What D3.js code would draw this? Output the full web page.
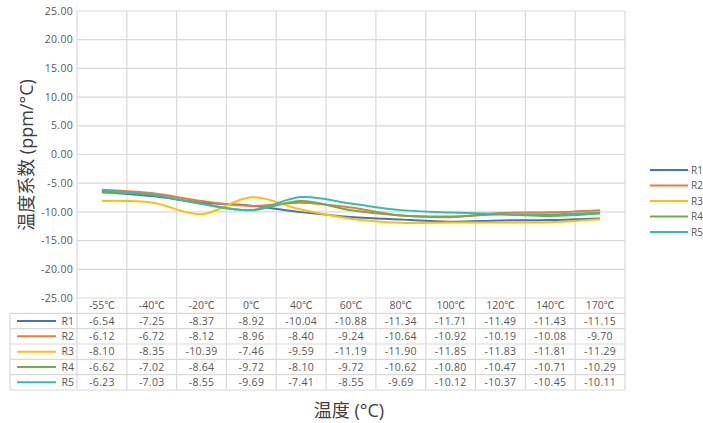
<!DOCTYPE html>
<html>
<head>
<meta charset="utf-8">
<script src="https://cdn.jsdelivr.net/npm/d3@7"></script>
<style>
  body { margin: 0; background: #fff; }
  svg text { font-family: "Open Sans", "Noto Sans CJK SC", sans-serif; }
</style>
</head>
<body>
<script>
const categories = ["-55℃", "-40℃", "-20℃", "0℃", "40℃", "60℃", "80℃", "100℃", "120℃", "140℃", "170℃"];
const seriesNames = ["R1", "R2", "R3", "R4", "R5"];
const r1 = [-6.54, -7.25, -8.37, -8.92, -10.04, -10.88, -11.34, -11.71, -11.49, -11.43, -11.15];
const r2 = [-6.12, -6.72, -8.12, -8.96, -8.40, -9.24, -10.64, -10.92, -10.19, -10.08, -9.70];
const r3 = [-8.10, -8.35, -10.39, -7.46, -9.59, -11.19, -11.90, -11.85, -11.83, -11.81, -11.29];
const r4 = [-6.62, -7.02, -8.64, -9.72, -8.10, -9.72, -10.62, -10.80, -10.47, -10.71, -10.29];
const r5 = [-6.23, -7.03, -8.55, -9.69, -7.41, -8.55, -9.69, -10.12, -10.37, -10.45, -10.11];
const yTicks = [25, 20, 15, 10, 5, 0, -5, -10, -15, -20, -25];
const colors = ["#4472C4", "#ED7D31", "#FFC000", "#70AD47", "#2DBFB0"];

const series = [r1, r2, r3, r4, r5].map((v, i) => ({ name: seriesNames[i], values: v, color: colors[i] }));

const w = 703, h = 423;
const plotLeft = 77, plotRight = 625, plotTop = 11, plotBottom = 298;
const rowH = 15.33;
const grid = "#d9d9d9";
const labelColor = "#595959";

const svg = d3.select("body").append("svg").attr("width", w).attr("height", h);

const x = d3.scaleBand().domain(categories).range([plotLeft, plotRight]).padding(0);
const y = d3.scaleLinear().domain([-25, 25]).range([plotBottom, plotTop]);

// horizontal gridlines
svg.append("g")
  .selectAll("line")
  .data(yTicks)
  .enter()
  .append("line")
  .attr("x1", plotLeft).attr("x2", plotRight)
  .attr("y1", (d) => y(d)).attr("y2", (d) => y(d))
  .attr("stroke", grid).attr("stroke-width", 1.2);

// vertical gridlines through plot and table
const tableBottom = plotBottom + rowH * 6;
const bounds = categories.map((c) => x(c)).concat([plotRight]);
svg.append("g")
  .selectAll("line")
  .data(bounds)
  .enter()
  .append("line")
  .attr("x1", (d) => d).attr("x2", (d) => d)
  .attr("y1", plotTop).attr("y2", tableBottom)
  .attr("stroke", grid).attr("stroke-width", 1.2);

// table horizontal lines
const rowLines = d3.range(1, 7).map((i) => plotBottom + rowH * i);
svg.append("g")
  .selectAll("line")
  .data(rowLines)
  .enter()
  .append("line")
  .attr("x1", 10).attr("x2", plotRight)
  .attr("y1", (d) => d).attr("y2", (d) => d)
  .attr("stroke", grid).attr("stroke-width", 1.2);
svg.append("line")
  .attr("x1", 10).attr("x2", 10)
  .attr("y1", plotBottom + rowH).attr("y2", tableBottom)
  .attr("stroke", grid).attr("stroke-width", 1.2);

// y tick labels
svg.append("g")
  .selectAll("text")
  .data(yTicks)
  .enter()
  .append("text")
  .attr("x", plotLeft - 4)
  .attr("y", (d) => y(d))
  .attr("dy", "0.35em")
  .attr("text-anchor", "end")
  .attr("font-size", 10.5)
  .attr("letter-spacing", 0.3)
  .attr("fill", labelColor)
  .text((d) => d.toFixed(2));

// category header
svg.append("g")
  .selectAll("text")
  .data(categories)
  .enter()
  .append("text")
  .attr("x", (d) => x(d) + x.bandwidth() / 2)
  .attr("y", plotBottom + rowH / 2)
  .attr("dy", "0.35em")
  .attr("text-anchor", "middle")
  .attr("font-size", 10.5)
  .attr("fill", labelColor)
  .text((d) => d);

// lines
const line = d3.line()
  .x((d, i) => x(categories[i]) + x.bandwidth() / 2)
  .y((d) => y(d))
  .curve(d3.curveCatmullRom.alpha(0));

svg.append("g")
  .selectAll("path")
  .data(series)
  .enter()
  .append("path")
  .attr("d", (d) => line(d.values))
  .attr("fill", "none")
  .attr("stroke", (d) => d.color)
  .attr("stroke-width", 2);

// table rows
series.forEach((s, si) => {
  const cy = plotBottom + rowH * (si + 1.5);
  const row = svg.append("g");
  row.append("line")
    .attr("x1", 17).attr("x2", 56)
    .attr("y1", cy).attr("y2", cy)
    .attr("stroke", s.color).attr("stroke-width", 2);
  row.append("text")
    .attr("x", plotLeft - 3).attr("y", cy).attr("dy", "0.35em")
    .attr("text-anchor", "end").attr("font-size", 10.5).attr("fill", labelColor)
    .text(s.name);
  row.selectAll("text.v")
    .data(s.values)
    .enter()
    .append("text")
    .attr("class", "v")
    .attr("x", (d, i) => x(categories[i]) + x.bandwidth() / 2)
    .attr("y", cy).attr("dy", "0.35em")
    .attr("text-anchor", "middle").attr("font-size", 10.5)
    .attr("letter-spacing", 0.3).attr("fill", labelColor)
    .text((d) => d.toFixed(2));
});

// right legend
const legend = svg.append("g")
  .selectAll("g")
  .data(series)
  .enter()
  .append("g")
  .attr("transform", (d, i) => `translate(650, ${170 + i * 15.5})`);
legend.append("line")
  .attr("x1", 0).attr("x2", 38)
  .attr("stroke", (d) => d.color).attr("stroke-width", 2);
legend.append("text")
  .attr("x", 41).attr("dy", "0.35em")
  .attr("font-size", 10).attr("fill", labelColor)
  .text((d) => d.name);

// axis titles
svg.append("text")
  .attr("x", 349).attr("y", 417)
  .attr("text-anchor", "middle")
  .attr("font-size", 18).attr("fill", "#404040")
  .text("温度 (°C)");

svg.append("text")
  .attr("transform", "translate(33, 155) rotate(-90)")
  .attr("text-anchor", "middle")
  .attr("font-size", 18).attr("fill", "#404040")
  .text("温度系数 (ppm/°C)");
</script>
</body>
</html>
